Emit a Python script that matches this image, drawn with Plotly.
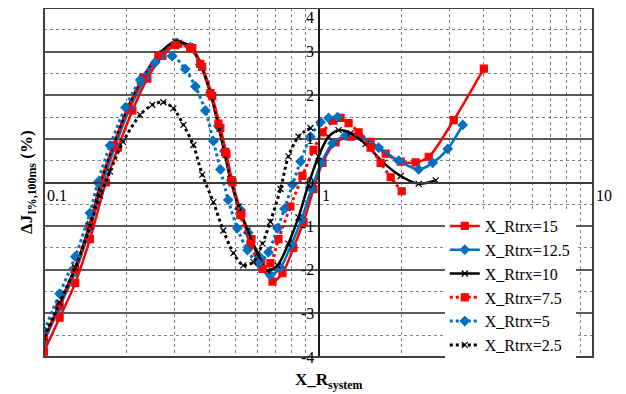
import math
import plotly.graph_objects as go

# ---------------- data ----------------
x_15 = [0.100, 0.114, 0.130, 0.147, 0.168, 0.186, 0.210, 0.238, 0.270, 0.308, 0.347, 0.377,
        0.410, 0.439, 0.462, 0.486, 0.524, 0.570, 0.619, 0.680, 0.739, 0.810, 0.882, 0.959,
        1.034, 1.154, 1.309, 1.548, 1.756, 1.992, 2.259, 2.521, 3.110, 4.001]
y_15 = [-3.88, -3.10, -2.30, -1.30, 0.00, 0.80, 1.65, 2.38, 2.90, 3.18, 3.08, 2.65,
        1.98, 1.25, 0.65, 0.00, -0.70, -1.30, -1.85, -2.27, -2.08, -1.50, -0.90, -0.15,
        0.45, 0.92, 1.05, 0.93, 0.66, 0.48, 0.46, 0.59, 1.43, 2.61]

x_12_5 = [0.100, 0.114, 0.130, 0.147, 0.164, 0.182, 0.206, 0.234, 0.265, 0.303, 0.341, 0.371,
          0.404, 0.432, 0.454, 0.481, 0.515, 0.555, 0.609, 0.668, 0.727, 0.797, 0.867, 0.943,
          1.025, 1.125, 1.254, 1.423, 1.656, 1.959, 2.317, 2.607, 2.957, 3.354]
y_12_5 = [-3.65, -2.85, -2.05, -1.05, 0.00, 0.85, 1.72, 2.40, 2.92, 3.20, 3.10, 2.70,
          2.05, 1.30, 0.72, 0.05, -0.60, -1.15, -1.70, -2.12, -1.95, -1.42, -0.85, -0.15,
          0.45, 0.90, 1.08, 1.05, 0.80, 0.50, 0.30, 0.45, 0.77, 1.32]

x_10 = [0.100, 0.114, 0.130, 0.147, 0.161, 0.179, 0.203, 0.230, 0.261, 0.301, 0.341, 0.371,
        0.404, 0.432, 0.454, 0.477, 0.511, 0.551, 0.599, 0.651, 0.709, 0.777, 0.845, 0.919,
        1.000, 1.088, 1.183, 1.309, 1.484, 1.727, 1.992, 2.317, 2.673]
y_10 = [-3.60, -2.78, -1.95, -0.95, 0.00, 0.85, 1.75, 2.42, 2.93, 3.23, 3.12, 2.72,
        2.05, 1.30, 0.70, 0.08, -0.55, -1.10, -1.62, -2.02, -1.90, -1.40, -0.80, -0.05,
        0.60, 1.05, 1.20, 1.13, 0.88, 0.45, 0.15, -0.03, 0.05]

x_7_5 = [0.100, 0.114, 0.130, 0.147, 0.161, 0.179, 0.203, 0.230, 0.261, 0.301, 0.341, 0.371,
         0.404, 0.432, 0.458, 0.481, 0.519, 0.565, 0.625, 0.668, 0.715, 0.790, 0.874, 0.959,
         1.034, 1.134, 1.203, 1.287, 1.400, 1.548, 1.684, 1.832, 2.009]
y_7_5 = [-3.60, -2.80, -2.00, -1.00, 0.00, 0.85, 1.70, 2.40, 2.90, 3.15, 3.08, 2.72,
         2.05, 1.35, 0.70, 0.05, -0.75, -1.40, -1.98, -1.85, -1.30, -0.55, 0.15, 0.75,
         1.15, 1.42, 1.48, 1.36, 1.15, 0.80, 0.45, 0.12, -0.20]

x_5 = [0.100, 0.114, 0.130, 0.147, 0.157, 0.174, 0.198, 0.224, 0.254, 0.293, 0.327, 0.356,
       0.387, 0.414, 0.439, 0.469, 0.506, 0.551, 0.604, 0.657, 0.709, 0.752, 0.804, 0.860,
       0.935, 1.017, 1.088, 1.173]
y_5 = [-3.40, -2.55, -1.70, -0.70, 0.00, 0.85, 1.72, 2.35, 2.75, 2.90, 2.60, 2.20,
       1.65, 0.95, 0.30, -0.40, -1.05, -1.55, -1.85, -1.60, -1.05, -0.60, -0.05, 0.48,
       1.05, 1.38, 1.48, 1.50]

x_2_5 = [0.100, 0.114, 0.130, 0.147, 0.160, 0.174, 0.194, 0.224, 0.248, 0.272, 0.296, 0.322,
         0.350, 0.377, 0.414, 0.450, 0.490, 0.532, 0.579, 0.625, 0.668, 0.727, 0.777, 0.845,
         0.935]
y_2_5 = [-3.55, -2.75, -1.95, -1.00, -0.30, 0.25, 0.93, 1.55, 1.78, 1.84, 1.70, 1.32,
         0.86, 0.18, -0.45, -1.10, -1.62, -1.90, -1.82, -1.40, -0.90, -0.15, 0.60, 1.05,
         1.25]

series_names = ["X_Rtrx=15", "X_Rtrx=12.5", "X_Rtrx=10", "X_Rtrx=7.5", "X_Rtrx=5", "X_Rtrx=2.5"]

x_tick_vals = [0.1, 1, 10]
x_tick_text = ["0.1", "1", "10"]
x_minor_vals = [0.2, 0.3, 0.4, 0.5, 0.6, 0.7, 0.8, 0.9, 2, 3, 4, 5, 6, 7, 8, 9]
y_tick_vals = [-4, -3, -2, -1, 0, 1, 2, 3, 4]
y_tick_text = ["-4", "-3", "-2", "-1", "0", "1", "2", "3", "4"]
y_cross_x = 1      # the vertical axis crosses the horizontal one at x = 1
x_cross_y = 0      # the horizontal axis crosses at y = 0

# ---------------- styles ----------------
RED = "#FF0000"
BLUE = "#0070C0"
BLACK = "#000000"
FONT = "Liberation Serif, Times New Roman, serif"

styles = [
    dict(color=RED, dash="solid", symbol="square", size=7),
    dict(color=BLUE, dash="solid", symbol="diamond", size=7),
    dict(color=BLACK, dash="solid", symbol="x-thin", size=6),
    dict(color=RED, dash="dot", symbol="square", size=7),
    dict(color=BLUE, dash="dot", symbol="diamond", size=7),
    dict(color=BLACK, dash="dot", symbol="x-thin", size=6),
]
xs = [x_15, x_12_5, x_10, x_7_5, x_5, x_2_5]
ys = [y_15, y_12_5, y_10, y_7_5, y_5, y_2_5]

fig = go.Figure()
for name, xv, yv, st in zip(series_names, xs, ys, styles):
    fig.add_trace(go.Scatter(
        x=xv, y=yv, name=name, mode="lines+markers",
        line=dict(color=st["color"], width=2.5 if st["dash"] == "solid" else 3,
                  dash=st["dash"], shape="spline", smoothing=0.8),
        marker=dict(symbol=st["symbol"], size=st["size"], color=st["color"],
                    line=dict(color=st["color"], width=1.2)),
    ))

annotations = []
y_top = max(y_tick_vals)
for v, t in zip(y_tick_vals, y_tick_text):
    # the top label would be clipped at the page edge, so hang it below its gridline
    annotations.append(dict(text=t, xref="x", yref="y", x=math.log10(y_cross_x), y=v,
                            xanchor="right", yanchor="top" if v == y_top else "middle",
                            xshift=-3, yshift=1 if v == y_top else 0,
                            showarrow=False, font=dict(size=16, family=FONT)))
for v, t in zip(x_tick_vals, x_tick_text):
    annotations.append(dict(text=t, xref="x", yref="y", x=math.log10(v), y=x_cross_y,
                            xanchor="left", yanchor="top", xshift=1, yshift=-2,
                            showarrow=False, font=dict(size=16, family=FONT)))
annotations += [
    dict(text="<b>ΔJ<sub>I%,100ms</sub> (%)</b>", xref="paper", yref="paper",
         x=-0.03, y=0.5, xanchor="center", yanchor="middle", textangle=-90,
         showarrow=False, font=dict(size=17, family=FONT)),
    dict(text="<b>X_R<sub>system</sub></b>", xref="paper", yref="paper",
         x=0.52, y=-0.069, xanchor="center", yanchor="middle",
         showarrow=False, font=dict(size=17, family=FONT)),
]

GRID = "#595959"
fig.update_layout(
    width=626, height=394,
    margin=dict(l=36, r=41, t=0, b=45),
    paper_bgcolor="white", plot_bgcolor="white",
    font=dict(family=FONT, size=16, color="black"),
    xaxis=dict(
        type="log", range=[-1, 1],
        tickmode="array", tickvals=x_tick_vals, ticktext=x_tick_text,
        showticklabels=False,
        showgrid=True, gridcolor=GRID, gridwidth=2,
        minor=dict(tickvals=x_minor_vals, showgrid=True, gridcolor="#7f7f7f",
                   griddash="dot", gridwidth=1, ticks=""),
        anchor="free", position=0.5,
        showline=True, linecolor="#3a3a3a", linewidth=2,
        ticks="", zeroline=False,
    ),
    yaxis=dict(
        range=[-4, 4],
        tickmode="array", tickvals=y_tick_vals, ticktext=y_tick_text,
        showticklabels=False,
        showgrid=True, gridcolor=GRID, gridwidth=2,
        minor=dict(dtick=0.5, showgrid=True, gridcolor="#7f7f7f",
                   griddash="dot", gridwidth=1, ticks=""),
        anchor="free", position=0.5,
        showline=True, linecolor="#1a1a1a", linewidth=2,
        ticks="", zeroline=False,
    ),
    legend=dict(
        x=0.73, y=0.424, xanchor="left", yanchor="top",
        bgcolor="white", borderwidth=0,
        font=dict(size=16, family=FONT),
        itemwidth=30, tracegroupgap=0,
    ),
    shapes=[dict(type="rect", xref="paper", yref="paper", x0=0, x1=1, y0=0, y1=1,
                 line=dict(color="#404040", width=2), layer="above")],
    annotations=annotations,
)

fig.write_html("out.html")
